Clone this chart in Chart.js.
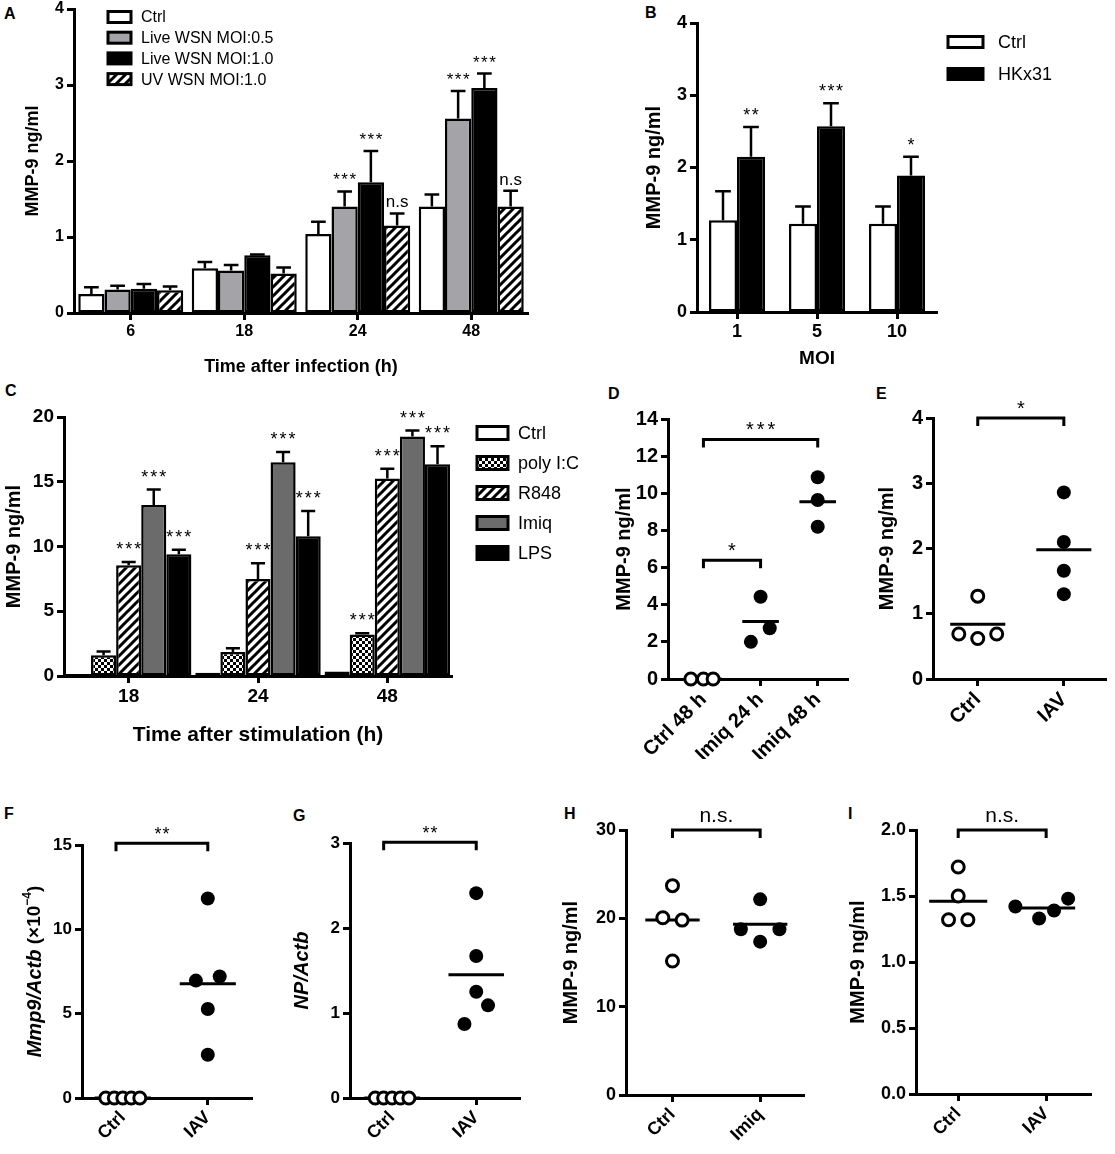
<!DOCTYPE html>
<html lang="en">
<head>
<meta charset="UTF-8">
<title>MMP-9 figure</title>
<script src="https://cdn.jsdelivr.net/npm/chart.js@4.4.0/dist/chart.umd.min.js"></script>
<style>
  body { margin: 0; background: #fff; width: 1115px; height: 1154px; position: relative; overflow: hidden;
         font-family: "Liberation Sans", Arial, sans-serif; }
  canvas { position: absolute; }
  .lbl { position: absolute; font-weight: bold; font-size: 16px; line-height: 16px; color: #000; }
</style>
</head>
<body>
<div class="lbl" style="left:4px;top:6px">A</div>
<div class="lbl" style="left:645px;top:5px">B</div>
<div class="lbl" style="left:5px;top:383px">C</div>
<div class="lbl" style="left:608px;top:386px">D</div>
<div class="lbl" style="left:876px;top:386px">E</div>
<div class="lbl" style="left:4px;top:806px">F</div>
<div class="lbl" style="left:293px;top:808px">G</div>
<div class="lbl" style="left:564px;top:806px">H</div>
<div class="lbl" style="left:848px;top:806px">I</div>

<canvas id="chartA"></canvas>
<canvas id="chartB"></canvas>
<canvas id="chartC"></canvas>
<canvas id="chartD"></canvas>
<canvas id="chartE"></canvas>
<canvas id="chartF"></canvas>
<canvas id="chartG"></canvas>
<canvas id="chartH"></canvas>
<canvas id="chartI"></canvas>

<script>
// ---- Panel A: MMP-9 after WSN infection ----
const timesA = ['6', '18', '24', '48'];
const ctrlA = [0.25, 0.59, 1.04, 1.40];
const ctrlAErr = [0.09, 0.08, 0.16, 0.16];
const wsn05A = [0.31, 0.56, 1.40, 2.56];
const wsn05AErr = [0.05, 0.07, 0.20, 0.36];
const wsn10A = [0.32, 0.76, 1.72, 2.96];
const wsn10AErr = [0.06, 0.01, 0.41, 0.19];
const uvA = [0.30, 0.52, 1.15, 1.40];
const uvAErr = [0.05, 0.08, 0.16, 0.21];
const wsn05ASig = ['', '', '***', '***'];
const wsn10ASig = ['', '', '***', '***'];
const uvASig = ['', '', 'n.s', 'n.s'];

// ---- Panel B: HKx31 by MOI ----
const moiB = ['1', '5', '10'];
const ctrlB = [1.27, 1.22, 1.22];
const ctrlBErr = [0.40, 0.24, 0.24];
const hkB = [2.15, 2.57, 1.89];
const hkBErr = [0.41, 0.32, 0.26];
const hkBSig = ['**', '***', '*'];

// ---- Panel C: TLR ligands ----
const timesC = ['18', '24', '48'];
const ctrlC = [0.15, 0.25, 0.35];
const polyC = [1.6, 1.85, 3.2];
const polyCErr = [0.3, 0.3, 0.1];
const r848C = [8.55, 7.5, 15.25];
const r848CErr = [0.25, 1.2, 0.75];
const imiqC = [13.2, 16.5, 18.5];
const imiqCErr = [1.2, 0.8, 0.45];
const lpsC = [9.4, 10.8, 16.35];
const lpsCErr = [0.35, 1.95, 1.4];
const polyCSig = ['', '', '***'];
const r848CSig = ['***', '***', '***'];
const imiqCSig = ['***', '***', '***'];
const lpsCSig = ['***', '***', '***'];

// ---- Panel D ----
const groupsD = ['Ctrl 48 h', 'Imiq 24 h', 'Imiq 48 h'];
const ctrl48D = [0, 0, 0];
const imiq24D = [2.0, 4.43, 2.73];
const imiq48D = [10.86, 9.64, 8.2];
const meanD = [0, 3.09, 9.55];
const bracketD = [[1, 2, 6.4, '*'], [1, 3, 12.9, '***']];

// ---- Panel E ----
const groupsE = ['Ctrl', 'IAV'];
const ctrlE = [1.27, 0.69, 0.62, 0.69];
const iavE = [2.86, 2.10, 1.66, 1.30];
const meanE = [0.84, 1.98];
const bracketE = [[1, 2, 4.0, '*']];

// ---- Panel F ----
const groupsF = ['Ctrl', 'IAV'];
const ctrlF = [0, 0, 0, 0, 0];
const iavF = [11.83, 6.96, 7.2, 5.28, 2.56];
const meanF = [0, 6.77];
const bracketF = [[0.92, 2, 15.1, '**']];

// ---- Panel G ----
const groupsG = ['Ctrl', 'IAV'];
const ctrlG = [0, 0, 0, 0, 0];
const iavG = [2.41, 1.67, 1.25, 1.09, 0.87];
const meanG = [0, 1.45];
const bracketG = [[0.9, 2, 3.01, '**']];

// ---- Panel H ----
const groupsH = ['Ctrl', 'Imiq'];
const ctrlH = [23.7, 20.07, 19.8, 15.17];
const imiqH = [22.15, 18.76, 18.76, 17.36];
const meanH = [19.8, 19.32];
const bracketH = [[1, 2, 30, 'n.s.']];

// ---- Panel I ----
const groupsI = ['Ctrl', 'IAV'];
const ctrlI = [1.72, 1.50, 1.32, 1.32];
const iavI = [1.42, 1.33, 1.39, 1.48];
const meanI = [1.46, 1.41];
const bracketI = [[1, 2, 2.0, 'n.s.']];

// horizontal spread of the dots inside each group (layout only)
const jitterD = [[-0.22, 0, 0.17], [-0.17, 0, 0.16], [0, 0, 0]];
const jitterE = [[0, -0.22, 0, 0.22], [0, 0, 0, 0]];
const jitterF = [[-0.2, -0.1, 0, 0.1, 0.2], [0, -0.14, 0.14, 0, 0]];
const jitterG = [[-0.2, -0.1, 0, 0.1, 0.2], [0, 0, 0, 0.14, -0.14]];
const jitterH = [[0, -0.11, 0.11, 0], [0, -0.22, 0.22, 0]];
const jitterI = [[0, 0, -0.11, 0.11], [-0.35, -0.08, 0.09, 0.25]];

const FONT = '"Liberation Sans", Arial, sans-serif';
Chart.defaults.font.family = FONT;
Chart.defaults.color = '#000';

// fill patterns
function hatchPattern() {
    const c = document.createElement('canvas');
    c.width = c.height = 9;
    const g = c.getContext('2d');
    g.fillStyle = '#fff';
    g.fillRect(0, 0, 9, 9);
    g.strokeStyle = '#000';
    g.lineWidth = 3;
    g.beginPath();
    g.moveTo(-2, 11); g.lineTo(11, -2);
    g.moveTo(-2, 2); g.lineTo(2, -2);
    g.moveTo(7, 11); g.lineTo(11, 7);
    g.stroke();
    return g.createPattern(c, 'repeat');
}
function checkerPattern() {
    const c = document.createElement('canvas');
    c.width = c.height = 6;
    const g = c.getContext('2d');
    g.fillStyle = '#fff';
    g.fillRect(0, 0, 6, 6);
    g.fillStyle = '#000';
    g.fillRect(0, 0, 3, 3);
    g.fillRect(3, 3, 3, 3);
    return g.createPattern(c, 'repeat');
}

// put a canvas so that its plot area lands on box
function place(id, box, m) {
    const cv = document.getElementById(id);
    const w = box.r - box.l + m.l + m.r;
    const h = box.b - box.t + m.t + m.b;
    cv.width = w;
    cv.height = h;
    cv.style.width = w + 'px';
    cv.style.height = h + 'px';
    cv.style.left = (box.l - m.l) + 'px';
    cv.style.top = (box.t - m.t) + 'px';
    return cv;
}

function axisLines() {
    return {
        border: { display: true, color: '#000', width: 3 },
        grid: { display: true, drawOnChartArea: false, drawTicks: true, tickLength: 7,
                tickWidth: 3, tickColor: '#000', color: '#000', offset: false }
    };
}

function yAxis(cfg, m) {
    return Object.assign(axisLines(), {
        min: 0,
        max: cfg.yMax,
        ticks: {
            stepSize: cfg.yStep,
            color: '#000',
            padding: 3,
            font: { size: cfg.tickSize, weight: 'bold' },
            callback: v => cfg.yDec ? v.toFixed(cfg.yDec) : v
        },
        title: {
            display: !!cfg.yTitle,
            text: cfg.yTitle || '',
            color: '#000',
            padding: 0,
            font: { size: cfg.yTitleSize, weight: 'bold', style: cfg.yTitleStyle || 'normal', lineHeight: 1.2 }
        },
        afterFit: s => { s.width = m.l; }
    });
}

// error bars + significance marks on bars
function errorBars(cfg) {
    return {
        id: 'errorBars',
        afterDatasetsDraw(chart) {
            const ctx = chart.ctx;
            const ys = chart.scales.y;
            chart.data.datasets.forEach((ds, i) => {
                chart.getDatasetMeta(i).data.forEach((bar, j) => {
                    const e = ds.err ? ds.err[j] : 0;
                    const top = ys.getPixelForValue(ds.data[j] + e);
                    ctx.save();
                    if (e > 0) {
                        const half = bar.width * 0.28;
                        ctx.strokeStyle = '#000';
                        ctx.lineWidth = 2.5;
                        ctx.beginPath();
                        ctx.moveTo(bar.x, bar.y);
                        ctx.lineTo(bar.x, top);
                        ctx.moveTo(bar.x - half, top);
                        ctx.lineTo(bar.x + half, top);
                        ctx.stroke();
                    }
                    const s = ds.sig ? ds.sig[j] : '';
                    if (s) {
                        const star = s.includes('*');
                        ctx.fillStyle = '#000';
                        ctx.font = cfg.sigFont;
                        ctx.textAlign = 'center';
                        ctx.textBaseline = 'alphabetic';
                        if (star) ctx.letterSpacing = cfg.sigSpacing + 'px';
                        ctx.fillText(s, bar.x + (star ? cfg.sigSpacing / 2 : 0), top - cfg.sigGap);
                    }
                    ctx.restore();
                });
            });
        }
    };
}

// legend with boxes, placed relative to the plot area
function boxLegend(lg) {
    return {
        id: 'boxLegend',
        afterDraw(chart) {
            const ctx = chart.ctx;
            const a = chart.chartArea;
            ctx.save();
            chart.data.datasets.forEach((ds, i) => {
                const x = a.left + lg.x;
                const cy = a.top + lg.y + i * lg.dy;
                ctx.fillStyle = ds.backgroundColor;
                ctx.fillRect(x, cy - lg.h / 2, lg.w, lg.h);
                ctx.strokeStyle = '#000';
                ctx.lineWidth = 3;
                ctx.strokeRect(x, cy - lg.h / 2, lg.w, lg.h);
                ctx.fillStyle = '#000';
                ctx.font = lg.font;
                ctx.textAlign = 'left';
                ctx.textBaseline = 'middle';
                ctx.fillText(ds.label, x + lg.w + lg.gap, cy + 1);
            });
            ctx.restore();
        }
    };
}

function barPanel(id, box, m, cfg) {
    const cv = place(id, box, m);
    const xAxis = Object.assign(axisLines(), {
        type: 'category',
        offset: true,
        ticks: { color: '#000', padding: 2, maxRotation: 0, font: { size: cfg.tickSize, weight: 'bold' } },
        title: { display: true, text: cfg.xTitle, color: '#000', padding: 0,
                 font: { size: cfg.xTitleSize, weight: 'bold', lineHeight: 1.2 } },
        afterFit: s => { s.height = m.b; }
    });
    new Chart(cv, {
        type: 'bar',
        data: {
            labels: cfg.labels,
            datasets: cfg.series.map(s => ({
                label: s.label,
                data: s.data,
                err: s.err,
                sig: s.sig,
                backgroundColor: s.fill,
                borderColor: '#000',
                borderWidth: 2.5,
                borderSkipped: false,
                barPercentage: 1,
                categoryPercentage: cfg.catPct
            }))
        },
        options: {
            responsive: false,
            animation: false,
            events: [],
            layout: { padding: { top: m.t, right: m.r, left: 0, bottom: 0 } },
            plugins: { legend: { display: false }, tooltip: { enabled: false } },
            scales: { x: xAxis, y: yAxis(cfg, m) }
        },
        plugins: [errorBars(cfg), boxLegend(cfg.legend)]
    });
}

// mean lines, brackets and an optional rich y title for dot plots
function dotMarks(cfg) {
    return {
        id: 'dotMarks',
        beforeDatasetsDraw(chart) {
            const ctx = chart.ctx, xs = chart.scales.x, ys = chart.scales.y;
            ctx.save();
            ctx.strokeStyle = '#000';
            ctx.lineWidth = 3;
            cfg.means.forEach((v, i) => {
                const y = ys.getPixelForValue(v);
                ctx.beginPath();
                ctx.moveTo(xs.getPixelForValue(i + 1 - cfg.meanHalf), y);
                ctx.lineTo(xs.getPixelForValue(i + 1 + cfg.meanHalf), y);
                ctx.stroke();
            });
            ctx.restore();
        },
        afterDraw(chart) {
            const ctx = chart.ctx, xs = chart.scales.x, ys = chart.scales.y, a = chart.chartArea;
            ctx.save();
            ctx.strokeStyle = '#000';
            ctx.fillStyle = '#000';
            ctx.lineWidth = 3;
            cfg.brackets.forEach(([from, to, val, text]) => {
                const x1 = xs.getPixelForValue(from), x2 = xs.getPixelForValue(to);
                const y = ys.getPixelForValue(val);
                ctx.beginPath();
                ctx.moveTo(x1, y + 8);
                ctx.lineTo(x1, y);
                ctx.lineTo(x2, y);
                ctx.lineTo(x2, y + 8);
                ctx.stroke();
                const star = text.includes('*');
                ctx.font = star ? cfg.starFont : cfg.nsFont;
                ctx.textAlign = 'center';
                ctx.textBaseline = 'alphabetic';
                ctx.letterSpacing = star ? cfg.starSpacing + 'px' : '0px';
                ctx.fillText(text, (x1 + x2) / 2 + (star ? cfg.starSpacing / 2 : 0), y - (star ? 3 : 8));
            });
            ctx.letterSpacing = '0px';
            if (cfg.richTitle) {
                const rt = cfg.richTitle;
                let total = 0;
                rt.parts.forEach(p => { ctx.font = p.font; p.w = ctx.measureText(p.text).width; total += p.w; });
                ctx.translate(a.left + rt.dx, (a.top + a.bottom) / 2);
                ctx.rotate(-Math.PI / 2);
                ctx.textAlign = 'left';
                ctx.textBaseline = 'middle';
                let x = -total / 2;
                rt.parts.forEach(p => {
                    ctx.font = p.font;
                    ctx.fillText(p.text, x, -(p.rise || 0));
                    x += p.w;
                });
            }
            ctx.restore();
        }
    };
}

function dotPanel(id, box, m, cfg) {
    const cv = place(id, box, m);
    const xAxis = Object.assign(axisLines(), {
        type: 'linear',
        min: cfg.xMin,
        max: cfg.xMax,
        afterBuildTicks: s => { s.ticks = cfg.labels.map((_, i) => ({ value: i + 1 })); },
        ticks: {
            autoSkip: false, minRotation: 45, maxRotation: 45, color: '#000', padding: 2,
            font: { size: cfg.xLabelSize, weight: 'bold' },
            callback: (v, i) => cfg.labels[i]
        },
        afterFit: s => { s.height = m.b; }
    });
    const datasets = cfg.groups.map((g, gi) => ({
        data: g.values.map((v, k) => ({ x: gi + 1 + cfg.jitter[gi][k], y: v })),
        pointRadius: g.open ? 6 : 7,
        pointBorderWidth: g.open ? 3 : 0,
        pointBackgroundColor: g.open ? '#fff' : '#000',
        pointBorderColor: '#000',
        clip: false
    }));
    new Chart(cv, {
        type: 'scatter',
        data: { datasets },
        options: {
            responsive: false,
            animation: false,
            events: [],
            layout: { padding: { top: m.t, right: m.r, left: 0, bottom: 0 } },
            plugins: { legend: { display: false }, tooltip: { enabled: false } },
            scales: { x: xAxis, y: yAxis(cfg, m) }
        },
        plugins: [dotMarks(cfg)]
    });
}

const hatch = hatchPattern();
const checker = checkerPattern();

// A
barPanel('chartA', { l: 74, t: 9, r: 528, b: 313 }, { l: 52, t: 20, r: 30, b: 65 }, {
    labels: timesA, catPct: 0.925, yMax: 4, yStep: 1,
    tickSize: 16, yTitle: 'MMP-9 ng/ml', yTitleSize: 18,
    xTitle: 'Time after infection (h)', xTitleSize: 18,
    sigFont: '17px ' + FONT, sigSpacing: 1.5, sigGap: 6,
    series: [
        { label: 'Ctrl', data: ctrlA, err: ctrlAErr, fill: '#ffffff' },
        { label: 'Live WSN MOI:0.5', data: wsn05A, err: wsn05AErr, sig: wsn05ASig, fill: '#a4a4a8' },
        { label: 'Live WSN MOI:1.0', data: wsn10A, err: wsn10AErr, sig: wsn10ASig, fill: '#000000' },
        { label: 'UV WSN MOI:1.0', data: uvA, err: uvAErr, sig: uvASig, fill: hatch }
    ],
    legend: { x: 34, y: 8, dy: 20.7, w: 23, h: 11, gap: 10, font: '16px ' + FONT }
});

// B
barPanel('chartB', { l: 697, t: 23, r: 937, b: 312 }, { l: 55, t: 20, r: 178, b: 58 }, {
    labels: moiB, catPct: 0.7, yMax: 4, yStep: 1,
    tickSize: 18, yTitle: 'MMP-9 ng/ml', yTitleSize: 20,
    xTitle: 'MOI', xTitleSize: 19,
    sigFont: '18px ' + FONT, sigSpacing: 1.5, sigGap: 6,
    series: [
        { label: 'Ctrl', data: ctrlB, err: ctrlBErr, fill: '#ffffff' },
        { label: 'HKx31', data: hkB, err: hkBErr, sig: hkBSig, fill: '#000000' }
    ],
    legend: { x: 251, y: 19, dy: 32, w: 35, h: 11, gap: 15, font: '18px ' + FONT }
});

// C
barPanel('chartC', { l: 64, t: 417, r: 452, b: 676 }, { l: 62, t: 40, r: 150, b: 72 }, {
    labels: timesC, catPct: 0.97, yMax: 20, yStep: 5,
    tickSize: 19, yTitle: 'MMP-9 ng/ml', yTitleSize: 20,
    xTitle: 'Time after stimulation (h)', xTitleSize: 21,
    sigFont: '18px ' + FONT, sigSpacing: 2, sigGap: 7,
    series: [
        { label: 'Ctrl', data: ctrlC, fill: '#ffffff' },
        { label: 'poly I:C', data: polyC, err: polyCErr, sig: polyCSig, fill: checker },
        { label: 'R848', data: r848C, err: r848CErr, sig: r848CSig, fill: hatch },
        { label: 'Imiq', data: imiqC, err: imiqCErr, sig: imiqCSig, fill: '#6b6b6b' },
        { label: 'LPS', data: lpsC, err: lpsCErr, sig: lpsCSig, fill: '#000000' }
    ],
    legend: { x: 413, y: 16, dy: 30, w: 31, h: 13, gap: 10, font: '18px ' + FONT }
});

// D
dotPanel('chartD', { l: 668, t: 419, r: 848, b: 679 }, { l: 56, t: 40, r: 12, b: 80 }, {
    labels: groupsD, xMin: 0.38, xMax: 3.53, yMax: 14, yStep: 2,
    tickSize: 20, yTitle: 'MMP-9 ng/ml', yTitleSize: 20, xLabelSize: 20,
    groups: [{ values: ctrl48D, open: true }, { values: imiq24D }, { values: imiq48D }],
    jitter: jitterD, means: meanD, meanHalf: 0.32, brackets: bracketD,
    starFont: '20px ' + FONT, starSpacing: 3, nsFont: '21px ' + FONT
});

// E
dotPanel('chartE', { l: 933, t: 418, r: 1110, b: 679 }, { l: 58, t: 40, r: 5, b: 80 }, {
    labels: groupsE, xMin: 0.48, xMax: 2.49, yMax: 4, yStep: 1,
    tickSize: 20, yTitle: 'MMP-9 ng/ml', yTitleSize: 20, xLabelSize: 20,
    groups: [{ values: ctrlE, open: true }, { values: iavE }],
    jitter: jitterE, means: meanE, meanHalf: 0.32, brackets: bracketE,
    starFont: '20px ' + FONT, starSpacing: 3, nsFont: '21px ' + FONT
});

// F
dotPanel('chartF', { l: 82, t: 845, r: 252, b: 1098 }, { l: 82, t: 45, r: 10, b: 56 }, {
    labels: groupsF, xMin: 0.52, xMax: 2.52, yMax: 15, yStep: 5,
    tickSize: 17, xLabelSize: 18,
    richTitle: { dx: -47, parts: [
        { text: 'Mmp9/Actb', font: 'italic bold 20px ' + FONT },
        { text: ' (\u00d710', font: 'bold 19px ' + FONT },
        { text: '\u22124', font: 'bold 12px ' + FONT, rise: 7 },
        { text: ')', font: 'bold 19px ' + FONT }
    ] },
    groups: [{ values: ctrlF, open: true }, { values: iavF }],
    jitter: jitterF, means: meanF, meanHalf: 0.33, brackets: bracketF,
    starFont: '18px ' + FONT, starSpacing: 1, nsFont: '21px ' + FONT
});

// G
dotPanel('chartG', { l: 350, t: 843, r: 520, b: 1098 }, { l: 60, t: 45, r: 10, b: 56 }, {
    labels: groupsG, xMin: 0.5, xMax: 2.52, yMax: 3, yStep: 1,
    tickSize: 17, yTitle: 'NP/Actb', yTitleSize: 20, yTitleStyle: 'italic', xLabelSize: 18,
    groups: [{ values: ctrlG, open: true }, { values: iavG }],
    jitter: jitterG, means: meanG, meanHalf: 0.33, brackets: bracketG,
    starFont: '18px ' + FONT, starSpacing: 1, nsFont: '21px ' + FONT
});

// H
dotPanel('chartH', { l: 626, t: 830, r: 804, b: 1095 }, { l: 67, t: 40, r: 10, b: 59 }, {
    labels: groupsH, xMin: 0.47, xMax: 2.5, yMax: 30, yStep: 10,
    tickSize: 18, yTitle: 'MMP-9 ng/ml', yTitleSize: 20, xLabelSize: 18,
    groups: [{ values: ctrlH, open: true }, { values: imiqH }],
    jitter: jitterH, means: meanH, meanHalf: 0.31, brackets: bracketH,
    starFont: '18px ' + FONT, starSpacing: 1, nsFont: '21px ' + FONT
});

// I
dotPanel('chartI', { l: 916, t: 830, r: 1091, b: 1094 }, { l: 70, t: 40, r: 10, b: 60 }, {
    labels: groupsI, xMin: 0.52, xMax: 2.51, yMax: 2, yStep: 0.5, yDec: 1,
    tickSize: 18, yTitle: 'MMP-9 ng/ml', yTitleSize: 20, xLabelSize: 18,
    groups: [{ values: ctrlI, open: true }, { values: iavI }],
    jitter: jitterI, means: meanI, meanHalf: 0.33, brackets: bracketI,
    starFont: '18px ' + FONT, starSpacing: 1, nsFont: '21px ' + FONT
});
</script>
</body>
</html>
